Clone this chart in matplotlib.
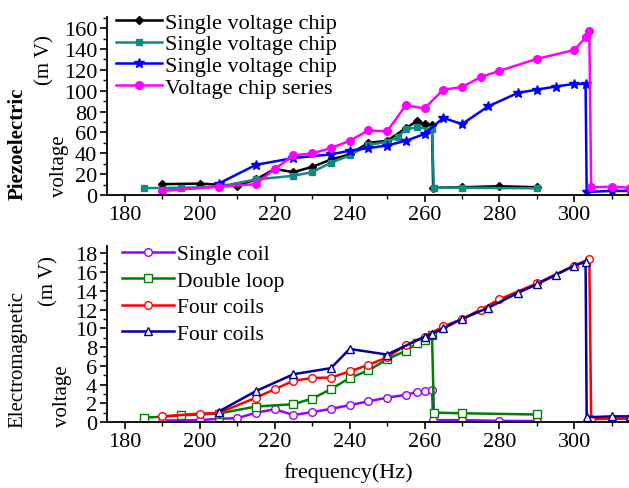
import matplotlib
matplotlib.use('Agg')
import matplotlib.pyplot as plt
from matplotlib.ticker import MultipleLocator

plt.rcParams['font.family'] = ['Liberation Serif', 'DejaVu Serif']

# ---- top panel: piezoelectric ----
f_black = [190, 200, 205, 210, 215, 220, 225, 230, 235, 240, 245, 250, 255, 258, 260, 262,
           262.3, 270, 280, 290]
v_black = [10.5, 11, 10, 9, 15, 25, 22, 27, 34, 39, 50, 52, 64, 71, 68, 67,
           7, 7.5, 8.5, 7.5]

f_teal = [185, 195, 205, 215, 225, 230, 235, 240, 245, 250, 253, 255, 258, 262,
          262.5, 270, 290]
v_teal = [6.7, 7, 8, 15, 18.5, 22, 31, 38, 48, 51, 56, 63, 65, 63,
          7, 7, 6.5]

f_blue = [205, 215, 225, 235, 240, 245, 250, 255, 260, 265, 270, 277, 285, 290, 295, 300, 303,
          303.3, 310, 315]
v_blue = [11, 29, 35.5, 39, 42.5, 45, 47.5, 52, 58.5, 74, 68, 85, 98, 101, 104, 106.5, 106.5,
          3, 4, 4]

f_pink = [190, 205, 215, 220, 225, 230, 235, 240, 245, 250, 255, 260, 265, 270, 275, 280, 290, 300, 303, 304,
          304.5, 310, 315]
v_pink = [4, 8, 10.5, 25, 38, 40, 45, 52, 62, 61, 86, 83, 101, 103.5, 113, 119, 130.5, 139, 151, 157,
          7.5, 8, 7]

# ---- bottom panel: electromagnetic ----
f_single = [190, 200, 205, 210, 215, 220, 225, 230, 235, 240, 245, 250, 255, 258, 260, 262,
            262.3, 270, 280, 290]
v_single = [0.15, 0.2, 0.35, 0.4, 1.0, 1.35, 0.75, 1.05, 1.4, 1.8, 2.2, 2.6, 2.9, 3.2, 3.3, 3.45,
            0.2, 0.2, 0.12, 0.1]

f_double = [185, 195, 205, 215, 225, 230, 235, 240, 245, 250, 255, 258, 260, 262,
            262.5, 270, 290]
v_double = [0.45, 0.7, 0.9, 1.65, 1.9, 2.5, 3.5, 4.7, 5.5, 6.7, 7.6, 8.4, 8.8, 9.3,
            1.0, 0.93, 0.8]

f_four_r = [190, 200, 205, 215, 220, 225, 230, 235, 240, 245, 250, 255, 260, 265, 270, 275, 280, 290, 300, 304,
            304.5, 310, 315]
v_four_r = [0.6, 0.9, 0.95, 2.6, 3.5, 4.4, 4.7, 4.75, 5.4, 6.1, 6.9, 8.2, 9.1, 10.2, 11.0, 12.0, 13.1, 14.8, 16.7, 17.4,
            0.3, 0.35, 0.35]

f_four_b = [205, 215, 225, 235, 240, 250, 260, 262, 265, 270, 277, 285, 290, 295, 300, 303,
            303.3, 310, 315]
v_four_b = [1.1, 3.3, 5.1, 5.75, 7.8, 7.2, 9.1, 9.4, 10.0, 11.0, 12.2, 13.8, 14.7, 15.7, 16.7, 17.1,
            0.5, 0.6, 0.6]

fig = plt.figure(figsize=(6.29, 4.89), dpi=100)
ax1 = fig.add_axes([0.170, 0.599, 0.830, 0.365])
ax2 = fig.add_axes([0.170, 0.135, 0.830, 0.360])

lw = 1.8
ax1.plot(f_black, v_black, color='black', lw=lw, marker='D', ms=4, label='Single voltage chip')
ax1.plot(f_teal, v_teal, color='#138a80', lw=lw, marker='s', ms=5, label='Single voltage chip')
ax1.plot(f_blue, v_blue, color='#0000ff', lw=lw, marker='*', ms=7, label='Single voltage chip')
ax1.plot(f_pink, v_pink, color='#ff00ff', lw=lw, marker='o', ms=5.5, label='Voltage chip series')

ax2.plot(f_single, v_single, color='#9900ff', lw=lw, marker='o', ms=5.5, mfc='white', label='Single coil')
ax2.plot(f_double, v_double, color='#008000', lw=lw, marker='s', ms=5.5, mfc='white', label='Double loop')
ax2.plot(f_four_r, v_four_r, color='#ff0000', lw=lw, marker='o', ms=5.5, mfc='white', label='Four coils')
ax2.plot(f_four_b, v_four_b, color='#000099', lw=lw, marker='^', ms=6, mfc='white', label='Four coils')

ax1.set_ylim(0, 171)
ax1.yaxis.set_major_locator(MultipleLocator(20))
ax1.yaxis.set_minor_locator(MultipleLocator(10))
ax2.set_ylim(0, 18.8)
ax2.yaxis.set_major_locator(MultipleLocator(2))
ax2.yaxis.set_minor_locator(MultipleLocator(1))

for ax in (ax1, ax2):
    ax.set_xlim(175.2, 314.6)
    ax.xaxis.set_major_locator(MultipleLocator(20))
    ax.xaxis.set_minor_locator(MultipleLocator(10))
    ax.spines['top'].set_visible(False)
    ax.spines['right'].set_visible(False)
    ax.spines['left'].set_linewidth(1.3)
    ax.spines['bottom'].set_linewidth(1.3)
    ax.tick_params(which='major', direction='out', length=5, width=1.2, labelsize=16, pad=2)
    ax.tick_params(which='minor', direction='out', length=3, width=1.0)

ax1.legend(loc='upper left', bbox_to_anchor=(0.0, 1.075), frameon=False, fontsize=16,
           handlelength=2.1, handletextpad=0.12, labelspacing=0.05, borderaxespad=0)
ax2.legend(loc='upper left', bbox_to_anchor=(0.013, 1.06), frameon=False, fontsize=15.5,
           handlelength=2.4, handletextpad=0.15, labelspacing=0.3, borderaxespad=0)

fig.text(0.553, 0.032, 'frequency(Hz)', ha='center', va='center', fontsize=16)

fig.text(0.028, 0.705, 'Piezoelectric', rotation=90, ha='center', va='center', fontsize=15, fontweight='bold')
fig.text(0.095, 0.660, 'voltage', rotation=90, ha='center', va='center', fontsize=15)
fig.text(0.072, 0.877, '(m V)', rotation=90, ha='center', va='center', fontsize=15)

fig.text(0.029, 0.264, 'Electromagnetic', rotation=90, ha='center', va='center', fontsize=15)
fig.text(0.100, 0.189, 'voltage', rotation=90, ha='center', va='center', fontsize=15)
fig.text(0.077, 0.425, '(m V)', rotation=90, ha='center', va='center', fontsize=15)

plt.savefig('out.png', dpi=100)
plt.close()
